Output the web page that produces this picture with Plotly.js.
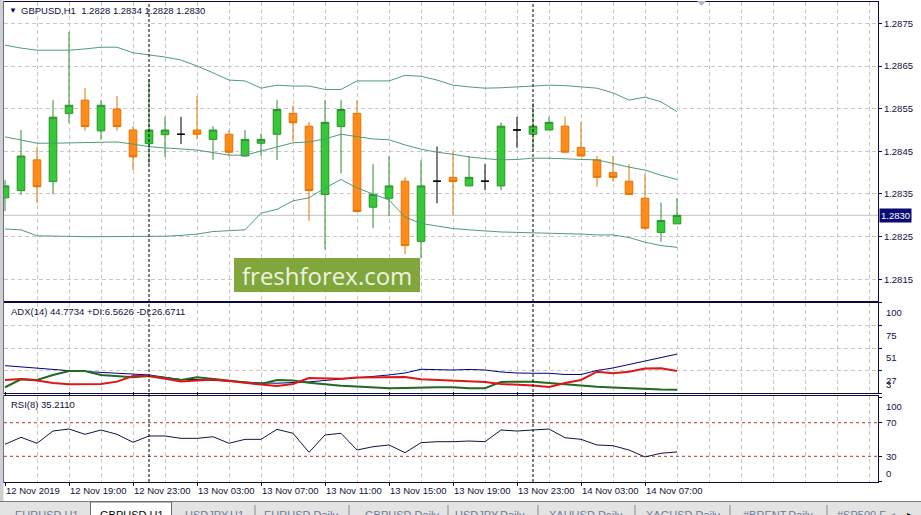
<!DOCTYPE html>
<html><head><meta charset="utf-8">
<script src="https://cdn.plot.ly/plotly-3.0.1.min.js"></script>
<style>html,body{margin:0;padding:0;background:#fff}#chart{width:921px;height:515px}</style>
</head><body><div id="chart"></div>
<script>
const symbol = "GBPUSD,H1";
const open  = [1.28341,1.28358,1.28430,1.28379,1.28539,1.28570,1.28498,1.28549,1.28500,1.28468,
               1.28489,1.28490,1.28500,1.28478,1.28490,1.28439,1.28469,1.28490,1.28539,1.28509,
               1.28349,1.28508,1.28539,1.28319,1.28340,1.28380,1.28239,1.28380,1.28389,1.28369,
               1.28380,1.28369,1.28500,1.28490,1.28500,1.28509,1.28459,1.28430,1.28400,1.28380,
               1.28340,1.28260,1.28280];
const high  = [1.28383,1.28500,1.28461,1.28570,1.28730,1.28598,1.28570,1.28580,1.28509,1.28619,
               1.28531,1.28531,1.28580,1.28509,1.28500,1.28500,1.28492,1.28570,1.28558,1.28519,
               1.28570,1.28570,1.28570,1.28420,1.28439,1.28389,1.28430,1.28461,1.28449,1.28439,
               1.28420,1.28518,1.28531,1.28563,1.28531,1.28531,1.28518,1.28439,1.28439,1.28420,
               1.28398,1.28330,1.28340];
const low   = [1.28310,1.28348,1.28328,1.28349,1.28517,1.28498,1.28477,1.28498,1.28406,1.28418,
               1.28437,1.28467,1.28478,1.28430,1.28439,1.28437,1.28439,1.28430,1.28473,1.28287,
               1.28220,1.28398,1.28308,1.28270,1.28298,1.28209,1.28199,1.28328,1.28301,1.28369,
               1.28359,1.28359,1.28458,1.28453,1.28500,1.28448,1.28439,1.28367,1.28379,1.28349,
               1.28266,1.28238,1.28280];
const close = [1.28369,1.28439,1.28367,1.28530,1.28558,1.28508,1.28558,1.28508,1.28437,1.28500,
               1.28500,1.28490,1.28490,1.28500,1.28448,1.28478,1.28478,1.28548,1.28517,1.28358,
               1.28518,1.28548,1.28309,1.28349,1.28369,1.28229,1.28369,1.28380,1.28379,1.28389,
               1.28380,1.28509,1.28500,1.28509,1.28518,1.28448,1.28439,1.28389,1.28389,1.28349,
               1.28270,1.28288,1.28300];
const lastBar = {open:1.2828, high:1.2834, low:1.2828, close:1.2830};

const bbUpper  = [1.28699,1.28692,1.28687,1.28687,1.28687,1.28690,1.28694,1.28694,1.28681,1.28676,
                  1.28671,1.28664,1.28650,1.28634,1.28617,1.28615,1.28598,1.28605,1.28603,1.28603,
                  1.28595,1.28595,1.28615,1.28615,1.28615,1.28628,1.28626,1.28617,1.28605,1.28601,
                  1.28598,1.28599,1.28601,1.28603,1.28605,1.28604,1.28601,1.28598,1.28587,1.28570,
                  1.28577,1.28566,1.28543];
const bbMiddle = [1.28484,1.28477,1.28469,1.28469,1.28470,1.28471,1.28472,1.28472,1.28467,1.28461,
                  1.28458,1.28455,1.28453,1.28447,1.28441,1.28441,1.28451,1.28461,1.28470,1.28472,
                  1.28479,1.28490,1.28485,1.28479,1.28477,1.28465,1.28455,1.28448,1.28443,1.28437,
                  1.28433,1.28430,1.28431,1.28434,1.28434,1.28432,1.28431,1.28430,1.28421,1.28413,
                  1.28406,1.28394,1.28384];
const bbLower  = [1.28268,1.28266,1.28252,1.28251,1.28250,1.28250,1.28250,1.28250,1.28250,1.28250,
                  1.28251,1.28253,1.28256,1.28262,1.28264,1.28266,1.28305,1.28314,1.28334,1.28341,
                  1.28364,1.28384,1.28364,1.28350,1.28336,1.28296,1.28281,1.28275,1.28269,1.28266,
                  1.28263,1.28261,1.28260,1.28259,1.28259,1.28257,1.28256,1.28254,1.28254,1.28248,
                  1.28237,1.28229,1.28225];

const adxMain = [32.4,31.0,29.4,28.1,27.0,26.1,25.3,24.5,23.4,22.4,19.9,17.5,17.5,16.5,15.4,14.6,13.8,13.5,13.8,14.9,
                 16.5,17.7,19.1,20.8,22.4,24.5,28.5,27.7,27.7,28.3,27.7,25.6,24.5,24.2,24.2,22.9,22.9,27.2,29.9,33.6,
                 37.4,41.7,44.8];
const plusDI  = [9.2,17.7,17.0,22.4,26.7,26.7,22.4,20.8,19.9,21.3,19.1,17.0,19.9,18.1,16.5,14.9,12.7,17.0,16.5,14.1,
                 12.2,10.9,10.0,8.9,8.1,8.4,9.2,9.2,9.2,8.1,8.1,14.9,15.2,15.2,13.8,12.2,11.1,9.8,8.9,8.1,
                 6.8,6.8,6.6];
const minusDI = [17.0,18.1,16.5,13.8,12.4,12.4,12.7,15.2,21.3,21.3,18.6,15.4,16.5,17.5,15.9,13.8,12.2,10.6,12.7,19.1,
                 18.6,18.4,19.7,19.9,20.4,20.2,17.7,17.0,16.5,15.9,14.9,12.7,12.0,11.1,9.5,13.8,17.0,25.9,24.2,25.9,
                 29.3,29.6,26.7];
const adxLastVals = {adx:44.7734, plusDI:6.5626, minusDI:26.6711};

const rsi = [44.3,52.6,45.5,60.1,62.5,56.2,61.3,56.2,46.7,54.2,54.2,51.4,51.4,53.3,45.5,50.2,50.2,62.1,57.4,34.8,
             55.4,57.4,37.5,41.4,43.5,34.3,46.2,47.4,47.4,48.2,47.4,61.3,60.1,61.3,62.5,52.1,50.2,43.5,42.6,37.5,
             29.2,33.6,35.2];
const rsiLastVal = 35.2110;
const rsiLevels = [70, 30];

const xTickIdx  = [0,4,8,12,16,20,24,28,32,36,40];
const xTickText = ["12 Nov 2019","12 Nov 19:00","12 Nov 23:00","13 Nov 03:00","13 Nov 07:00","13 Nov 11:00",
                   "13 Nov 15:00","13 Nov 19:00","13 Nov 23:00","14 Nov 03:00","14 Nov 07:00"];
const priceTicks = [1.2815,1.2825,1.2835,1.2845,1.2855,1.2865,1.2875];
const adxTicks = [100,75,51,27,3];
const rsiTicks = [100,70,30,0];
const separatorIdx = [9,33];
const tabs = ["EURUSD,H1","GBPUSD,H1","USDJPY,H1","EURUSD,Daily","GBPUSD,Daily","USDJPY,Daily",
              "XAUUSD,Daily","XAGUSD,Daily","#BRENT,Daily","#SP500,F"];
const activeTab = 1;
const watermark = "freshforex.com";

// ---------- geometry helpers (pixel -> paper) ----------
const W=921,H=515,ML=4,MR=43,MT=2,MB=33;
const PW=W-ML-MR, PH=H-MT-MB;
const px=(x)=>(x-ML)/PW;
const py=(y)=>(H-MB-y)/PH;

const idx = open.map((_,i)=>i);
const isDoji = idx.map(i=>open[i]===close[i]);
const sel = (arr,f)=>arr.filter((_,i)=>f(i));
const normalIdx = sel(idx,i=>!isDoji[i]);
const dojiIdx = sel(idx,i=>isDoji[i]);

const FONT='Liberation Sans, Arial, sans-serif';
const gridC='#c9c9c9', gridD='4px,3px', axC='#0a0a40', txtC='#101040';

const traces = [
 {type:'scatter',mode:'lines',x:idx,y:bbUpper,xaxis:'x',yaxis:'y',line:{color:'#4f9c79',width:1},hoverinfo:'skip'},
 {type:'scatter',mode:'lines',x:idx,y:bbMiddle,xaxis:'x',yaxis:'y',line:{color:'#4f9c79',width:1},hoverinfo:'skip'},
 {type:'scatter',mode:'lines',x:idx,y:bbLower,xaxis:'x',yaxis:'y',line:{color:'#4f9c79',width:1},hoverinfo:'skip'},
 {type:'candlestick',xaxis:'x',yaxis:'y',
  x:normalIdx, open:normalIdx.map(i=>open[i]), high:normalIdx.map(i=>high[i]),
  low:normalIdx.map(i=>low[i]), close:normalIdx.map(i=>close[i]),
  increasing:{line:{color:'#2e8f2e',width:1},fillcolor:'#36c936'},
  decreasing:{line:{color:'#e07400',width:1},fillcolor:'#ff8c1a'},
  whiskerwidth:0,hoverinfo:'skip'},
 {type:'candlestick',xaxis:'x',yaxis:'y',
  x:dojiIdx, open:dojiIdx.map(i=>open[i]), high:dojiIdx.map(i=>high[i]),
  low:dojiIdx.map(i=>low[i]), close:dojiIdx.map(i=>close[i]),
  increasing:{line:{color:'#000000',width:1},fillcolor:'#000000'},
  decreasing:{line:{color:'#000000',width:1},fillcolor:'#000000'},
  whiskerwidth:0,hoverinfo:'skip'},
 {type:'scatter',mode:'lines',x:idx,y:adxMain,xaxis:'x',yaxis:'y2',line:{color:'#000080',width:1},hoverinfo:'skip'},
 {type:'scatter',mode:'lines',x:idx,y:plusDI,xaxis:'x',yaxis:'y2',line:{color:'#1f6b1f',width:2},hoverinfo:'skip'},
 {type:'scatter',mode:'lines',x:idx,y:minusDI,xaxis:'x',yaxis:'y2',line:{color:'#e01515',width:2},hoverinfo:'skip'},
 {type:'scatter',mode:'lines',x:idx,y:rsi,xaxis:'x',yaxis:'y3',line:{color:'#141440',width:1},hoverinfo:'skip'}
];

const shapes = [];
const annotations = [];

shapes.push({type:'line',xref:'paper',yref:'y',x0:0,x1:1,y0:lastBar.close,y1:lastBar.close,line:{color:'#c4c4c4',width:1},layer:'below'});
rsiLevels.forEach(v=>shapes.push({type:'line',xref:'paper',yref:'y3',x0:0,x1:1,y0:v,y1:v,line:{color:'#cc2a2a',width:1,dash:'3px,3px'},layer:'below'}));
separatorIdx.forEach(i=>shapes.push({type:'line',xref:'x',yref:'paper',x0:i,x1:i,y0:0,y1:1,line:{color:'#000000',width:1,dash:'3px,2px'},layer:'above'}));
shapes.push({type:'rect',xref:'paper',yref:'paper',x0:px(0),x1:px(3.5),y0:py(502),y1:py(0),fillcolor:'#cfcfcf',line:{width:0}});
shapes.push({type:'rect',xref:'paper',yref:'paper',x0:px(0),x1:px(921),y0:py(515),y1:py(502),fillcolor:'#e3e3e3',line:{width:0}});
shapes.push({type:'line',xref:'paper',yref:'paper',x0:px(0),x1:px(921),y0:py(501.5),y1:py(501.5),line:{color:'#7a7a7a',width:1}});
shapes.push({type:'rect',xref:'paper',yref:'paper',x0:px(90.5),x1:px(171.5),y0:py(516),y1:py(502),fillcolor:'#ffffff',line:{color:'#6a6a6a',width:1}});
[255,349,448,538,635,730,827].forEach(x=>shapes.push({type:'line',xref:'paper',yref:'paper',x0:px(x),x1:px(x),y0:py(515),y1:py(505),line:{color:'#8a8a8a',width:1}}));
shapes.push({type:'path',xref:'paper',yref:'paper',path:`M ${px(697)} ${py(1)} L ${px(706)} ${py(1)} L ${px(701.5)} ${py(6)} Z`,fillcolor:'#b8b8c8',line:{width:0}});
shapes.push({type:'rect',xref:'paper',yref:'paper',x0:px(234),x1:px(420),y0:py(292),y1:py(258),fillcolor:'#80a63c',line:{width:0},layer:'above'});

annotations.push({xref:'paper',yref:'paper',x:px(327),y:py(275),text:watermark,showarrow:false,xanchor:'center',yanchor:'middle',font:{family:'Open Sans, Noto Sans, sans-serif',size:24,color:'#eef3e2'}});

annotations.push({xref:'paper',yref:'paper',x:px(7),y:py(10.5),text:'\u25BC',showarrow:false,xanchor:'left',yanchor:'middle',font:{family:FONT,size:8,color:'#0a0a50'}});
annotations.push({xref:'paper',yref:'paper',x:px(19),y:py(10),showarrow:false,xanchor:'left',yanchor:'middle',
  text:`${symbol}\u00a0\u00a0${lastBar.open.toFixed(4)} ${lastBar.high.toFixed(4)} ${lastBar.low.toFixed(4)} ${lastBar.close.toFixed(4)}`,
  font:{family:FONT,size:9.5,color:txtC}});
annotations.push({xref:'paper',yref:'paper',x:px(9),y:py(312),showarrow:false,xanchor:'left',yanchor:'middle',
  text:`ADX(14) ${adxLastVals.adx.toFixed(4)} +DI:${adxLastVals.plusDI.toFixed(4)} -DI:${adxLastVals.minusDI.toFixed(4)}`,
  font:{family:FONT,size:9.5,color:txtC}});
annotations.push({xref:'paper',yref:'paper',x:px(9),y:py(404),showarrow:false,xanchor:'left',yanchor:'middle',
  text:`RSI(8) ${rsiLastVal.toFixed(4)}`,font:{family:FONT,size:9.5,color:txtC}});

annotations.push({xref:'paper',yref:'y',x:px(879),y:lastBar.close,text:lastBar.close.toFixed(4),showarrow:false,xanchor:'left',yanchor:'middle',
  bgcolor:'#0b0b74',borderpad:1,font:{family:FONT,size:9.5,color:'#ffffff'}});

adxTicks.forEach(v=>annotations.push({xref:'paper',yref:'y2',x:px(884),y:v,text:String(v),showarrow:false,xanchor:'left',
  yanchor: v===3?'bottom':'top', yshift: v===3?1:-2, font:{family:FONT,size:9.5,color:txtC}}));
rsiTicks.forEach(v=>annotations.push({xref:'paper',yref:'y3',x:px(884),y:v,text:String(v),showarrow:false,xanchor:'left',
  yanchor: v===100?'top':(v===0?'bottom':'middle'), yshift: v===100?-1:(v===0?1:0), font:{family:FONT,size:9.5,color:txtC}}));

const tabCenters=[46.5,131.5,214,301,402,490,585.5,682.5,777.5,835];
tabs.forEach((t,i)=>annotations.push({xref:'paper',yref:'paper',x:px(tabCenters[i]),y:py(507),text:t,showarrow:false,
  xanchor: i===tabs.length-1?'left':'center',yanchor:'top',font:{family:FONT,size:11,color:i===activeTab?'#000000':'#6d7a96'}}));
annotations.push({xref:'paper',yref:'paper',x:px(892),y:py(507),text:'\u25C2',showarrow:false,xanchor:'center',yanchor:'top',font:{family:FONT,size:10,color:'#9a9a9a'}});
annotations.push({xref:'paper',yref:'paper',x:px(909),y:py(507),text:'\u25B8',showarrow:false,xanchor:'center',yanchor:'top',font:{family:FONT,size:10,color:'#000000'}});

const yCommon = {side:'right',anchor:'x',showline:true,mirror:true,linecolor:axC,linewidth:1,zeroline:false,fixedrange:true,
  ticks:'outside',ticklen:3,tickcolor:axC,tickfont:{family:FONT,size:9.5,color:txtC}};

const layout = {
  width:W,height:H,margin:{l:ML,r:MR,t:MT,b:MB,pad:0},
  paper_bgcolor:'#ffffff',plot_bgcolor:'#ffffff',showlegend:false,
  boxgap:0.32,dragmode:false,hovermode:false,
  font:{family:FONT,size:9.5,color:txtC},
  xaxis:{domain:[0,1],anchor:'y3',range:[-0.0625,54.5625],tickmode:'array',tickvals:xTickIdx,ticktext:xTickText,
    ticks:'outside',ticklen:3,tickcolor:axC,ticklabelposition:'outside right',tickangle:0,automargin:false,
    tickfont:{family:FONT,size:9.5,color:txtC},
    showgrid:true,gridcolor:gridC,griddash:gridD,gridwidth:1,
    minor:{tickmode:'linear',tick0:0,dtick:2,showgrid:true,gridcolor:gridC,griddash:gridD,gridwidth:1,ticks:''},
    showline:true,mirror:'all',linecolor:axC,linewidth:1,zeroline:false,rangeslider:{visible:false},fixedrange:true},
  yaxis:Object.assign({},yCommon,{domain:[py(301),1],range:[1.280992,1.288],tickmode:'array',tickvals:priceTicks,
    ticktext:priceTicks.map(v=>v.toFixed(4)),showgrid:true,gridcolor:gridC,griddash:gridD}),
  yaxis2:Object.assign({},yCommon,{domain:[py(393),py(302.7)],range:[3.0,100.0],tickmode:'array',tickvals:adxTicks,
    showticklabels:false,showgrid:true,gridcolor:gridC,griddash:gridD}),
  yaxis3:Object.assign({},yCommon,{domain:[0,py(396)],range:[-0.6,101.8],tickmode:'array',tickvals:rsiTicks,
    showticklabels:false,showgrid:false}),
  shapes:shapes,annotations:annotations
};

Plotly.newPlot('chart',traces,layout,{staticPlot:true,displayModeBar:false});
</script></body></html>
